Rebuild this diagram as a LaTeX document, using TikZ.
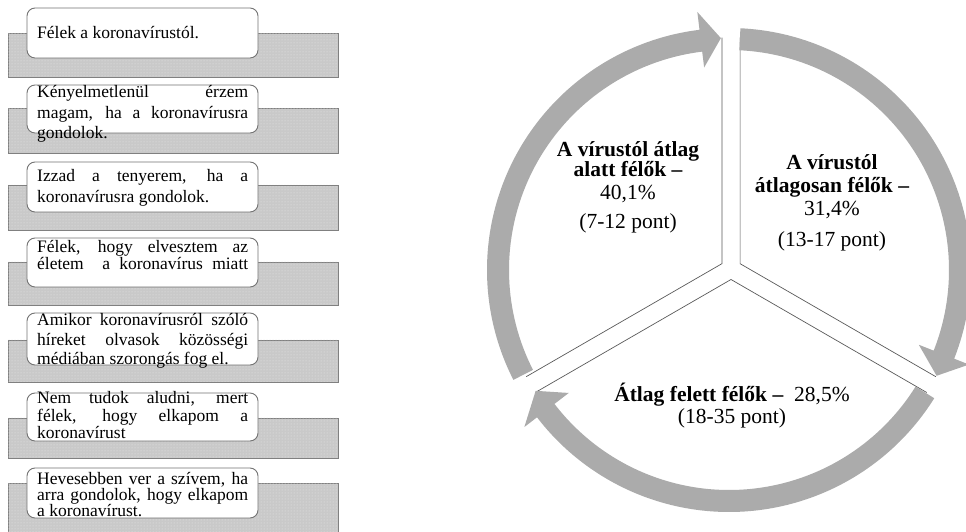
\documentclass[tikz,border=0pt]{standalone}
\usepackage{fontspec}
\setmainfont{Liberation Serif}
\usetikzlibrary{patterns}
\newcommand\justline[1]{\makebox[211pt][s]{#1}}
\newcommand\boxlines[2]{\parbox[t]{211pt}{\fontsize{17.5}{#1}\selectfont #2}}
\begin{document}
\begin{tikzpicture}[x=1pt,y=1pt,
  bgbox/.style={fill=black!21, postaction={pattern=dots, pattern color=black!9}, draw=black!50, line width=0.9pt},
  hdbox/.style={fill=white, draw=black!55, line width=0.9pt, rounded corners=8pt},
  ltext/.style={anchor=base west, inner sep=0pt},
  ring/.style={fill=black!33},
  sect/.style={draw=black!65, line width=0.7pt},
  ctext/.style={anchor=base, inner sep=0pt, font=\fontsize{21.5}{23}\selectfont},
  cbold/.style={ctext, font=\fontsize{21.5}{23}\selectfont\bfseries}]
\useasboundingbox (0,0) rectangle (966,532);

% ---------- left list ----------
\draw[bgbox] (8,499) rectangle (338,455);
\draw[hdbox] (27,524) rectangle (258,474);
\node[ltext] (t1) at (37,493) {\boxlines{20.5}{Félek a koronavírustól.}};

\draw[bgbox] (8,424) rectangle (338,379);
\draw[hdbox] (27,447) rectangle (258,399);
\node[ltext] (t2) at (37,434) {\boxlines{20.5}{\justline{Kényelmetlenül érzem}\\\justline{magam, ha a koronavírusra}\\gondolok.}};

\draw[bgbox] (8,347) rectangle (338,302);
\draw[hdbox] (27,370) rectangle (258,320);
\node[ltext] (t3) at (37,350) {\boxlines{21}{\justline{Izzad a tenyerem, ha a}\\koronavírusra gondolok.}};

\draw[bgbox] (8,270) rectangle (338,227);
\draw[hdbox] (27,294) rectangle (258,245);
\node[ltext] (t4) at (37,279) {\boxlines{17}{\justline{Félek, hogy elvesztem az}\\\justline{életem~ a koronavírus miatt}}};

\draw[bgbox] (8,192) rectangle (338,150);
\draw[hdbox] (27,219) rectangle (258,167);
\node[ltext] (t5) at (37,206) {\boxlines{19.5}{\justline{Amikor koronavírusról szóló}\\\justline{híreket olvasok közösségi}\\médiában szorongás fog el.}};

\draw[bgbox] (8,114) rectangle (338,74);
\draw[hdbox] (27,139) rectangle (258,91);
\node[ltext] (t6) at (37,128) {\boxlines{17.5}{\justline{Nem tudok aludni, mert}\\\justline{félek, hogy elkapom a}\\koronavírust}};

\draw[bgbox] (8,49) rectangle (338,-6);
\draw[hdbox] (27,64) rectangle (258,14);
\node[ltext] (t7) at (37,47) {\boxlines{16}{\justline{Hevesebben ver a szívem, ha}\\\justline{arra gondolok, hogy elkapom}\\a koronavírust.}};

% ---------- segmented cycle ----------
\coordinate (a1) at (721.9,268.3);
\coordinate (a2) at (740.1,268.3);
\coordinate (a3) at (731,252.5);
\draw[sect] (a1) ++(90:226) -- (a1) -- ++(210:226);
\draw[sect] (a2) ++(90:226) -- (a2) -- ++(-30:226);
\draw[sect] (a3) ++(210:226) -- (a3) -- ++(-30:226);

\begin{scope}[shift={(729,262)}]
\fill[ring] (207:242) arc[start angle=207,end angle=97,radius=242] -- (97:260) -- (92:232)
  -- (97:204) -- (97:220) arc[start angle=97,end angle=207,radius=220] -- cycle;
\fill[ring] (87.3:242) arc[start angle=87.3,end angle=-21.5,radius=242] -- (-21.5:258) -- (-27:233)
  -- (-21.5:204) -- (-21.5:220) arc[start angle=-21.5,end angle=87.3,radius=220] -- cycle;
\fill[ring] (-32:242) arc[start angle=-32,end angle=-142.5,radius=242] -- (-142.5:258) -- (-148:228)
  -- (-142.5:202) -- (-142.5:220) arc[start angle=-142.5,end angle=-32,radius=220] -- cycle;
\end{scope}

\node[cbold] (s1a) at (628,375) {A vírustól átlag};
\node[cbold] (s1b) at (628,355) {alatt félők –};
\node[ctext] (s1c) at (628,332) {40,1\%};
\node[ctext] (s1d) at (628,303) {(7-12 pont)};

\node[cbold] (s2a) at (832,362) {A vírustól};
\node[cbold] (s2b) at (832,339) {átlagosan félők –};
\node[ctext] (s2c) at (832,316) {31,4\%};
\node[ctext] (s2d) at (832,285) {(13-17 pont)};

\node[ctext] (s3a) at (732,130) {\textbf{Átlag felett félők –}~~28,5\%};
\node[ctext] (s3b) at (732,108) {(18-35 pont)};
\end{tikzpicture}
\end{document}
